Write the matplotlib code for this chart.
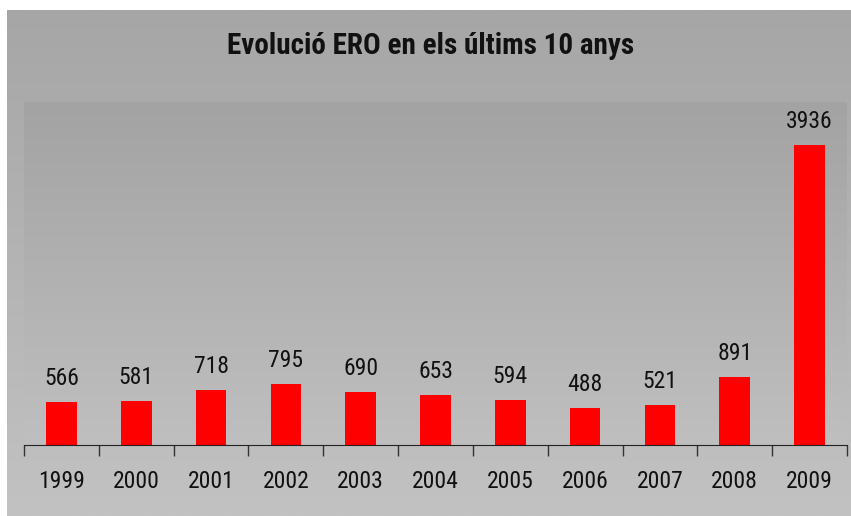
import matplotlib.pyplot as plt
import numpy as np
from matplotlib import font_manager

years = ["1999", "2000", "2001", "2002", "2003", "2004", "2005", "2006", "2007", "2008", "2009"]
values = [566, 581, 718, 795, 690, 653, 594, 488, 521, 891, 3936]

# Arial Narrow look-alike, if one is installed
names = {f.name for f in font_manager.fontManager.ttflist}
font = "Liberation Sans"
for cand in ["Liberation Sans Narrow", "Roboto Condensed", "Open Sans Condensed",
             "Noto Sans Condensed", "DejaVu Sans Condensed"]:
    if cand in names:
        font = cand
        break
plt.rcParams["font.family"] = [font, "DejaVu Sans"]

W, H = 851, 516
fig = plt.figure(figsize=(W / 100, H / 100), dpi=100)
fig.patch.set_facecolor("white")

# figure background gradient
bg = fig.add_axes([7 / W, 0, 1 - 7 / W, 1 - 10 / H], zorder=0)
grad = np.linspace(0, 1, 256).reshape(-1, 1)
bg.imshow(grad, aspect="auto", cmap=plt.cm.colors.LinearSegmentedColormap.from_list(
    "g", ["#a6a6a6", "#c2c2c2"]), extent=[0, 1, 0, 1], origin="upper")
bg.axis("off")

ax = fig.add_axes([24 / W, (H - 445) / H, (847 - 24) / W, (445 - 102) / H], zorder=1)
ax.patch.set_alpha(0)
# plot area gradient, slightly darker than the surround
ax.imshow(grad, aspect="auto", cmap=plt.cm.colors.LinearSegmentedColormap.from_list(
    "p", ["#a3a3a3", "#bfbfbf"]), extent=[-0.5, len(years) - 0.5, 0, 4500],
    origin="upper", zorder=0)

x = np.arange(len(years))
ax.bar(x, values, width=0.41, color="#ff0000", zorder=2)
for xi, v in zip(x, values):
    ax.text(xi, v + 160, str(v), ha="center", va="bottom", fontsize=17, color="#111111")

ax.set_xlim(-0.5, len(years) - 0.5)
ax.set_ylim(0, 4500)
ax.set_yticks([])
ax.set_xticks(np.arange(-0.5, len(years)))
ax.set_xticklabels([])
ax.set_xticks(x, minor=True)
ax.set_xticklabels(years, minor=True, fontsize=17, color="#111111")
ax.tick_params(axis="x", which="major", length=8, width=1, color="#333333")
ax.tick_params(axis="x", which="minor", length=0, pad=18)
for s in ["top", "right", "left"]:
    ax.spines[s].set_visible(False)
ax.spines["bottom"].set_color("#222222")

fig.text(431 / W, 1 - 46 / H, "Evolució ERO en els últims 10 anys", ha="center",
         va="center", fontsize=21, fontweight="bold", color="#111111")

fig.savefig("out.png", dpi=100)
